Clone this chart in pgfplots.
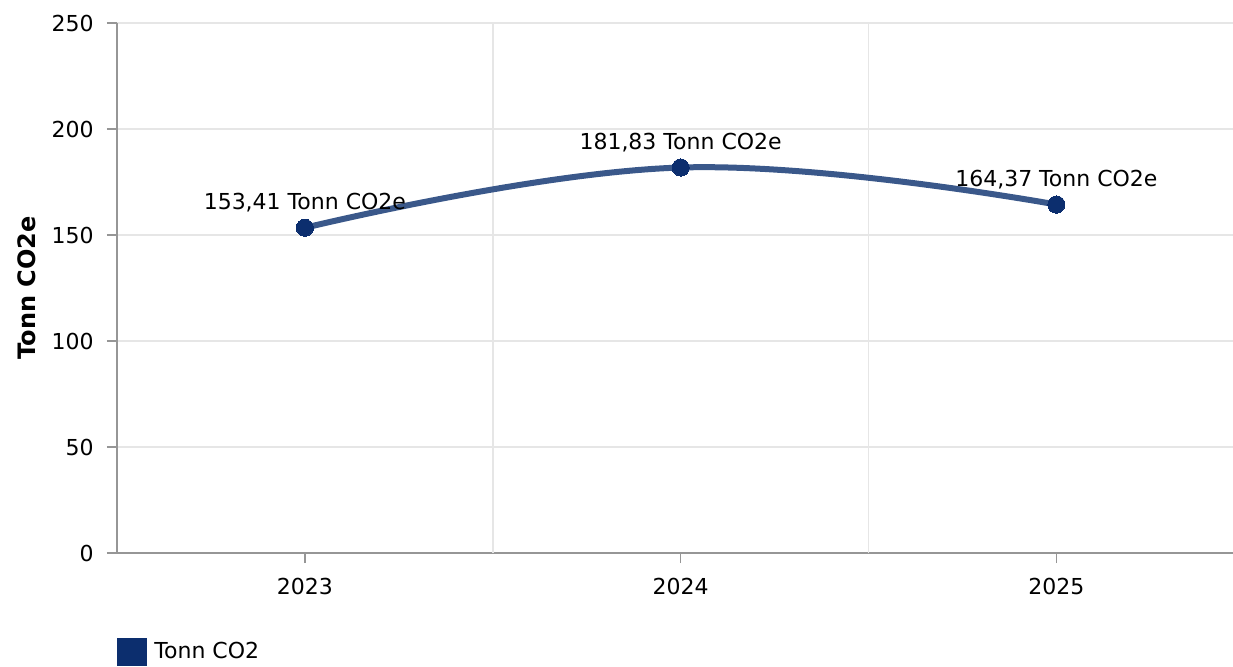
\documentclass[border=0pt]{standalone}
\usepackage{fontspec}
\setmainfont{DejaVu Sans}
\usepackage{pgfplots}
\pgfplotsset{compat=1.18}

\definecolor{lineblue}{RGB}{58,88,138}
\definecolor{markblue}{RGB}{12,46,110}
\definecolor{gridgray}{RGB}{230,230,230}
\definecolor{axisgray}{RGB}{150,150,150}

\begin{document}
\begin{tikzpicture}
\fontsize{11}{13}\selectfont
\useasboundingbox (0,0) rectangle (616.5pt,333pt);
\begin{axis}[
    at={(58.5pt,56.5pt)}, anchor=south west,
    scale only axis, width=558pt, height=265pt,
    xmin=0.5, xmax=3.47, ymin=0, ymax=250,
    xtick={1,2,3}, xticklabels={2023,2024,2025},
    ytick={0,50,100,150,200,250},
    axis x line*=bottom, axis y line*=left,
    axis line style={axisgray, line width=0.8pt},
    tick align=outside, major tick length=5pt,
    tick style={axisgray, line width=0.8pt},
    ymajorgrids, grid style={gridgray, line width=0.8pt},
    extra x ticks={1.5,2.5}, extra x tick labels={},
    extra x tick style={grid=major, major tick length=0pt},
    yticklabel style={inner sep=0pt, xshift=-6.5pt, font=\fontsize{11}{13}\selectfont},
    xticklabel style={inner sep=0pt, yshift=-7.5pt, font=\fontsize{11}{13}\selectfont},
    /pgf/number format/assume math mode=true,
    ylabel={\textbf{Tonn CO2e}},
    y label style={at={(axis description cs:-0.0806,0.5)}, anchor=center, font=\fontsize{12}{14}\selectfont},
    legend style={at={(rel axis cs:0,0)}, anchor=north west, yshift=-42.5pt,
        draw=none, fill=none, inner sep=0pt, font=\fontsize{11}{13}\selectfont,
        nodes={inner sep=1.5pt}},
    clip=false,
]
\addplot[lineblue, line width=3pt, smooth, tension=0.7,
    mark=*, mark size=4.3pt, mark options={fill=markblue, draw=markblue, line width=0pt},
    point meta=explicit symbolic,
    nodes near coords, every node near coord/.append style={black, yshift=4pt, font=\fontsize{11}{13}\selectfont},
    legend image code/.code={\fill[markblue, draw=none] (0pt,-7pt) rectangle (15pt,7pt);
        \path[draw=none] (0pt,0pt) -- (17pt,0pt);}]
    coordinates {
    (1,153.41) [153,41 Tonn CO2e]
    (2,181.83) [181,83 Tonn CO2e]
    (3,164.37) [164,37 Tonn CO2e]
};
\addlegendentry{Tonn CO2}
\end{axis}
\end{tikzpicture}
\end{document}
